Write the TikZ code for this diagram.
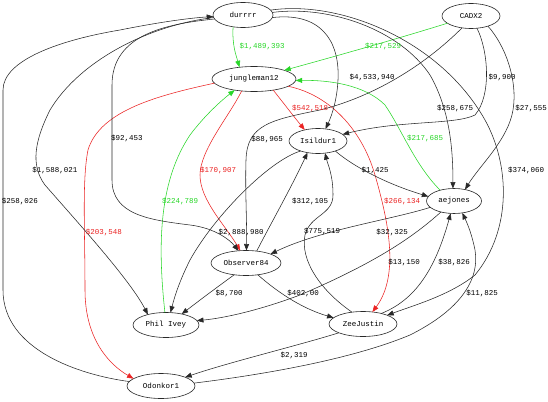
\documentclass[tikz,border=0pt]{standalone}
\usepackage{fontspec}
\setmainfont{Liberation Mono}
\usetikzlibrary{shapes.geometric,arrows.meta}
\definecolor{ggreen}{RGB}{40,215,40}
\definecolor{rred}{RGB}{235,35,35}
\definecolor{lnk}{RGB}{40,40,40}
\begin{document}
\begin{tikzpicture}[x=1pt,y=-1pt,
  pl/.style={draw=lnk, ellipse, line width=0.6pt, inner sep=0pt, outer sep=0pt, minimum height=25pt, fill=white, font=\fontsize{7.5}{8}\selectfont},
  ed/.style={line width=0.55pt, draw=lnk, -{Triangle[length=6.5pt,width=5pt]}},
  gr/.style={ed, draw=ggreen},
  rd/.style={ed, draw=rred},
  lab/.style={font=\fontsize{7.5}{8}\selectfont, inner sep=0pt, text=black},
  glab/.style={lab, text=ggreen},
  rlab/.style={lab, text=rred}
]
\useasboundingbox[fill=white] (0,0) rectangle (548,401);
% nodes
\node[pl, minimum width=60pt] (D) at (243,15) {durrrr};
\node[pl, minimum width=58pt] (C) at (471,16) {CADX2};
\node[pl, minimum width=84pt] (J) at (254,79) {jungleman12};
\node[pl, minimum width=58pt] (I) at (318,141) {Isildur1};
\node[pl, minimum width=55pt] (A) at (454,201) {aejones};
\node[pl, minimum width=70pt] (O) at (246,263) {Observer84};
\node[pl, minimum width=66pt] (P) at (166,325) {Phil Ivey};
\node[pl, minimum width=68pt] (Z) at (363,324) {ZeeJustin};
\node[pl, minimum width=68pt] (K) at (161,386) {Odonkor1};
% green edges (into jungleman12)
\draw[gr] (D.230) .. controls (232,45) and (236,55) .. (J.141);
\draw[gr] (C.197) .. controls (400,38) and (340,55) .. (J.16);
\draw[gr] (A.142) .. controls (415,165) and (402,130) .. (385,105) .. controls (365,85) and (330,80) .. (J.358);
\draw[gr] (P.95) .. controls (157,240) and (160,180) .. (190,135) .. controls (205,115) and (222,100) .. (J.210);
% red edges (from jungleman12)
\draw[rd] (J.330) .. controls (285,105) and (295,118) .. (I.140);
\draw[rd] (J.224) .. controls (230,115) and (200,150) .. (200,175) .. controls (200,200) and (225,225) .. (O.115);
\draw[rd] (J.348) .. controls (330,95) and (362,130) .. (375,175) .. controls (388,220) and (400,275) .. (Z.52);
\draw[rd] (J.186) .. controls (160,95) and (100,110) .. (88,150) .. controls (82,180) and (85,230) .. (85,290) .. controls (85,340) and (110,365) .. (K.165);
% black edges
\draw[ed] (D.355) .. controls (320,12) and (340,40) .. (338,80) .. controls (337,100) and (332,115) .. (I.58);
\draw[ed] (D.5) .. controls (330,5) and (400,30) .. (430,75) .. controls (450,110) and (453,150) .. (A.95);
\draw[ed] (C.296) .. controls (488,50) and (492,95) .. (475,115) .. controls (455,125) and (400,120) .. (I.15);
\draw[ed] (C.329) .. controls (505,45) and (518,80) .. (513,110) .. controls (508,140) and (480,165) .. (A.46);
\draw[ed] (C.233) .. controls (430,60) and (380,95) .. (320,110) .. controls (270,120) and (247,125) .. (246,160) .. controls (245,190) and (247,220) .. (O.88);
\draw[ed] (D.188) .. controls (165,24) and (112,35) .. (112,85) -- (112,180) .. controls (112,215) and (150,220) .. (190,225) .. controls (215,228) and (230,240) .. (O.122);
\draw[ed] (D.185) .. controls (150,25) and (80,60) .. (50,110) .. controls (35,140) and (30,165) .. (45,185) .. controls (80,225) and (130,280) .. (P.150);
\draw[ed] (K.172) .. controls (80,375) and (3,350) .. (3,290) -- (3,90) .. controls (3,60) and (60,40) .. (120,30) .. controls (160,22) and (190,18) .. (D.183);
\draw[ed] (I.330) .. controls (355,168) and (390,185) .. (A.170);
\draw[ed] (D.10) .. controls (340,0) and (440,40) .. (485,120) .. controls (510,165) and (512,230) .. (475,275) .. controls (450,295) and (415,305) .. (Z.20);
\draw[ed] (O.48) .. controls (270,225) and (290,190) .. (I.228);
\draw[ed] (Z.133) .. controls (320,290) and (300,260) .. (305,235) .. controls (310,215) and (333,215) .. (333,195) .. controls (333,175) and (328,165) .. (I.300);
\draw[ed] (A.195) .. controls (390,220) and (320,230) .. (O.20);
\draw[ed] (A.220) .. controls (410,240) and (370,265) .. (300,295) .. controls (260,310) and (225,318) .. (P.8);
\draw[ed] (Z.30) .. controls (415,300) and (435,270) .. (A.255);
\draw[ed] (O.225) .. controls (220,285) and (200,300) .. (P.35);
\draw[ed] (O.315) .. controls (275,290) and (300,308) .. (Z.168);
\draw[ed] (K.5) .. controls (260,375) and (350,360) .. (410,335) .. controls (460,310) and (480,280) .. (475,250) .. controls (472,235) and (468,225) .. (A.305);
\draw[ed] (Z.200) .. controls (300,345) and (230,362) .. (K.20);
\draw[ed] (I.210) .. controls (270,160) and (215,215) .. (190,260) .. controls (180,280) and (175,295) .. (P.70);
% labels
\node[glab] (l1) at (262,46) {\$1,489,393};
\node[glab] (l2) at (383,46) {\$217,529};
\node[lab] (l3) at (372,77) {\$4,533,940};
\node[lab] (l4) at (502,77) {\$9,900};
\node[lab] (l5) at (455,108) {\$258,675};
\node[lab] (l6) at (531,108) {\$27,555};
\node[rlab] (l7) at (310,108) {\$542,518};
\node[lab] (l8) at (267,139) {\$88,965};
\node[lab] (l9) at (127,138) {\$92,453};
\node[glab] (l10) at (425,138) {\$217,685};
\node[lab] (l11) at (55,170) {\$1,588,021};
\node[rlab] (l12) at (218,170) {\$170,907};
\node[lab] (l13) at (375,170) {\$1,425};
\node[lab] (l14) at (526,170) {\$374,060};
\node[lab] (l15) at (20,201) {\$258,026};
\node[glab] (l16) at (180,201) {\$224,789};
\node[lab] (l17) at (310,201) {\$312,105};
\node[rlab] (l18) at (402,201) {\$266,134};
\node[rlab] (l19) at (104,232) {\$203,548};
\node[lab] (l20) at (241,232) {\$2,888,980};
\node[lab] (l21) at (322,231) {\$775,519};
\node[lab] (l22) at (392,232) {\$32,325};
\node[lab] (l23) at (404,262) {\$13,150};
\node[lab] (l24) at (454,262) {\$38,826};
\node[lab] (l25) at (229,293) {\$8,700};
\node[lab] (l26) at (303,293) {\$402,00};
\node[lab] (l27) at (482,293) {\$11,825};
\node[lab] (l28) at (294,355) {\$2,319};
\end{tikzpicture}
\end{document}
